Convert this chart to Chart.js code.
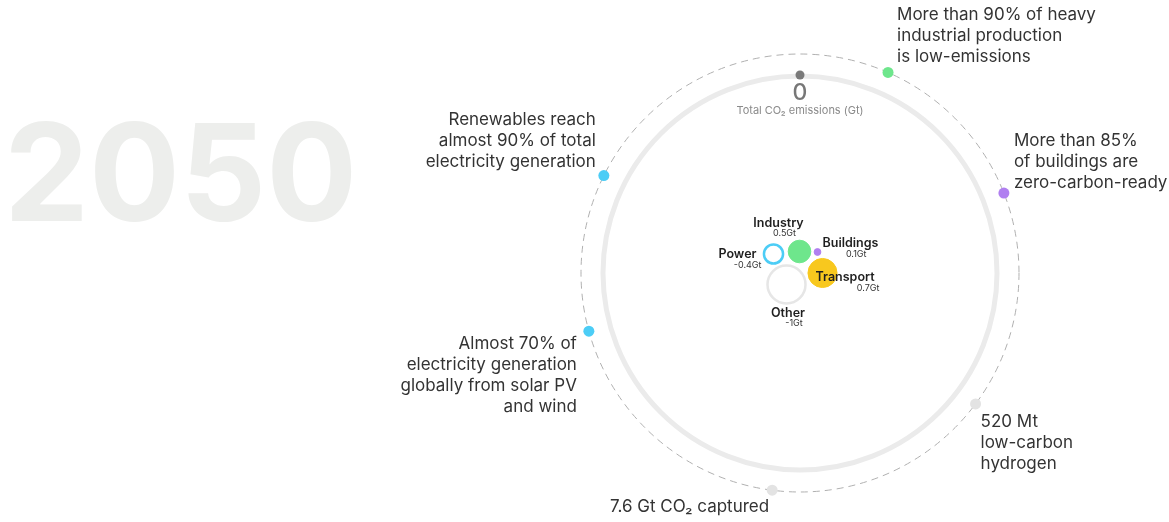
<!DOCTYPE html>
<html>
<head>
<meta charset="utf-8">
<script src="https://cdn.jsdelivr.net/npm/chart.js@4"></script>
<style>
  html, body { margin: 0; padding: 0; background: #ffffff; }
  #wrap { position: relative; width: 1169px; height: 522px; }
</style>
</head>
<body>
<div id="wrap"><canvas id="c"></canvas></div>
<script>
// ---------------- DATA ----------------
const yearLabel = '2050';
const totalEmissions = 0;
const totalLabel = 'Total CO₂ emissions (Gt)';
const sectors = ['Power', 'Industry', 'Buildings', 'Transport', 'Other'];
const emissions = [-0.4, 0.5, 0.1, 0.7, -1];
const milestones = [
  ['More than 90% of heavy', 'industrial production', 'is low-emissions'],
  ['More than 85%', 'of buildings are', 'zero-carbon-ready'],
  ['520 Mt', 'low-carbon', 'hydrogen'],
  ['7.6 Gt CO₂ captured'],
  ['Almost 70% of', 'electricity generation', 'globally from solar PV', 'and wind'],
  ['Renewables reach', 'almost 90% of total', 'electricity generation']
];

// ---------------- STYLE / LAYOUT ----------------
const sectorColors = ['#4ccdf6', '#6ee68c', '#b07ff0', '#f8c81e', '#e6e6e6'];
const sectorHollow = [true, false, false, false, true];
// bubble packing position (chart units, centre of ring = 0,0)
const sectorPos = [[-26.5, 19], [-0.5, 21.5], [17.5, 21], [22.5, 0], [-13.5, -11.5]];
// label offsets in px from bubble centre: [nameDx, nameDy, nameAlign, valDx, valDy, valAlign]
const sectorLabelPos = [
  [-17, 0, 'right', -12, 11, 'right'],
  [-21, -28, 'center', -15, -18, 'center'],
  [5, -9, 'left', 49, 2, 'right'],
  [-7, 4, 'left', 57, 15, 'right'],
  [1.5, 29, 'center', 7.5, 39, 'center']
];
const milestoneColors = ['#6ee68c', '#b07ff0', '#e3e3e3', '#e3e3e3', '#4ccdf6', '#4ccdf6'];
const milestoneAngles = [23.7, 68.6, 126.7, 187.3, 254.6, 296.4];
// text anchor offsets in px from dot: [dx, dyFirstLine, align]
const milestoneText = [
  [9, -58, 'left'], [10, -52, 'left'], [5, 18, 'left'],
  [-3, 17, 'right'], [-12, 13, 'right'], [-8, -56, 'right']
];
const ringR = 197, dashR = 219;
const FONT = 'Inter, "Noto Sans", sans-serif';

const rad = d => d * Math.PI / 180;
const bubbleR = v => 19 * Math.pow(Math.abs(v), 0.75);

const sectorData = sectors.map((s, i) => ({ x: sectorPos[i][0], y: sectorPos[i][1], r: bubbleR(emissions[i]) }));
const milestoneData = milestoneAngles.map(a => ({ x: dashR * Math.sin(rad(a)), y: dashR * Math.cos(rad(a)) }));

const decor = {
  id: 'decor',
  beforeDatasetsDraw(chart) {
    const { ctx, scales: { x, y } } = chart;
    const cx = x.getPixelForValue(0), cy = y.getPixelForValue(0);
    const pr = x.getPixelForValue(ringR) - cx;
    const pd = x.getPixelForValue(dashR) - cx;
    ctx.save();
    // year
    ctx.fillStyle = '#edeeec';
    ctx.font = 'bold 135px ' + FONT;
    ctx.textAlign = 'left';
    ctx.textBaseline = 'alphabetic';
    ctx.fillText(yearLabel, 4, 221);
    // dashed circle
    ctx.beginPath();
    ctx.arc(cx, cy, pd, 0, Math.PI * 2);
    ctx.strokeStyle = '#b0b0b0';
    ctx.lineWidth = 1;
    ctx.setLineDash([7, 5]);
    ctx.stroke();
    ctx.setLineDash([]);
    // ring
    ctx.beginPath();
    ctx.arc(cx, cy, pr, 0, Math.PI * 2);
    ctx.strokeStyle = '#ebebeb';
    ctx.lineWidth = 5;
    ctx.stroke();
    // total dot + label
    ctx.beginPath();
    ctx.arc(cx, cy - pr - 1, 4.5, 0, Math.PI * 2);
    ctx.fillStyle = '#7a7a7a';
    ctx.fill();
    ctx.textAlign = 'center';
    ctx.textBaseline = 'middle';
    ctx.fillStyle = '#777777';
    ctx.font = '500 23px ' + FONT;
    ctx.fillText(String(totalEmissions), cx, cy - pr + 17);
    ctx.fillStyle = '#8a8a8a';
    ctx.font = '11px ' + FONT;
    ctx.fillText(totalLabel, cx, cy - pr + 35);
    ctx.restore();
  },
  afterDatasetsDraw(chart) {
    const { ctx } = chart;
    ctx.save();
    ctx.textBaseline = 'middle';
    // sector labels
    const m0 = chart.getDatasetMeta(0);
    m0.data.forEach((pt, i) => {
      const L = sectorLabelPos[i];
      ctx.fillStyle = '#1f1f1f';
      ctx.font = '600 12.5px ' + FONT;
      ctx.textAlign = L[2];
      ctx.fillText(sectors[i], pt.x + L[0], pt.y + L[1]);
      ctx.fillStyle = '#333333';
      ctx.font = '9px ' + FONT;
      ctx.textAlign = L[5];
      ctx.fillText(emissions[i] + 'Gt', pt.x + L[3], pt.y + L[4]);
    });
    // milestone texts
    const m1 = chart.getDatasetMeta(1);
    ctx.fillStyle = '#333333';
    ctx.font = '17px ' + FONT;
    m1.data.forEach((pt, i) => {
      const T = milestoneText[i];
      ctx.textAlign = T[2];
      milestones[i].forEach((line, j) => {
        ctx.fillText(line, pt.x + T[0], pt.y + T[1] + j * 21);
      });
    });
    ctx.restore();
  }
};

new Chart(document.getElementById('c'), {
  type: 'bubble',
  data: {
    datasets: [
      {
        label: 'Sectors',
        data: sectorData,
        backgroundColor: sectorColors.map((c, i) => sectorHollow[i] ? '#ffffff' : c),
        borderColor: sectorColors,
        borderWidth: sectorHollow.map(h => h ? 2.5 : 1),
        order: 1
      },
      {
        type: 'scatter',
        label: 'Milestones',
        data: milestoneData,
        backgroundColor: milestoneColors,
        borderColor: milestoneColors,
        pointRadius: 5.5,
        borderWidth: 0,
        order: 0
      }
    ]
  },
  options: {
    responsive: true,
    maintainAspectRatio: false,
    animation: false,
    events: [],
    layout: { padding: 0, autoPadding: false },
    plugins: { legend: { display: false }, tooltip: { enabled: false } },
    scales: {
      x: { type: 'linear', min: -800, max: 369, display: false },
      y: { type: 'linear', min: -249, max: 273, display: false }
    }
  },
  plugins: [decor]
});
</script>
</body>
</html>
